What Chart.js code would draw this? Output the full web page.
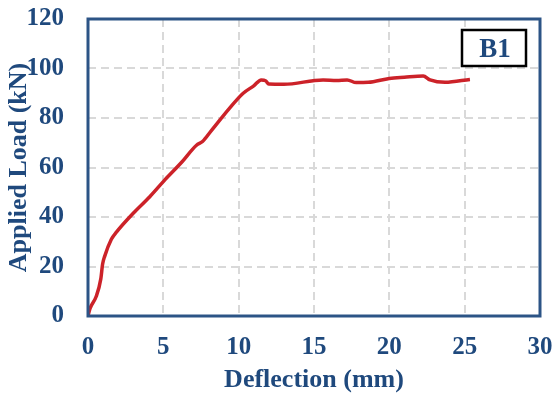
<!DOCTYPE html>
<html>
<head>
<meta charset="utf-8">
<script src="https://cdn.jsdelivr.net/npm/chart.js@4"></script>
<style>
  html, body { margin: 0; padding: 0; background: #fff; }
  #wrap { width: 555px; height: 396px; }
</style>
</head>
<body>
<div id="wrap"><canvas id="myChart" width="555" height="396"></canvas></div>
<script>
const deflection = [0, 0.13, 0.55, 0.85, 0.97, 1.1, 1.55, 1.9, 3.0, 4.1, 5.1, 6.2, 7.2, 7.6, 8.2, 9.4, 10.3, 11.0, 11.5, 11.8, 12.0, 13.0, 15.6, 16.5, 17.2, 17.8, 18.6, 20.0, 21.0, 22.25, 22.7, 23.7, 25.35];
const load = [0, 3, 8, 15, 21, 24, 31, 34, 41.5, 48.2, 55, 62, 69, 70.5, 75, 84, 90, 93, 95.4, 95, 93.7, 93.6, 95.4, 95.2, 95.4, 94.3, 94.4, 96, 96.5, 97, 95.4, 94.4, 95.6];
const xTicks = [0, 5, 10, 15, 20, 25, 30];
const yTicks = [0, 20, 40, 60, 80, 100, 120];
const specimen = 'B1';

const blue = '#1F497D';
const axisBlue = '#2C5486';
const fontFamily = '"Liberation Serif", "Times New Roman", serif';

// frame round the plot area and the label box
const framePlugin = {
  id: 'frame',
  afterDraw(chart) {
    const c = chart.ctx;
    const a = chart.chartArea;
    c.save();
    c.strokeStyle = axisBlue;
    c.lineWidth = 3;
    c.strokeRect(a.left, a.top, a.right - a.left, a.bottom - a.top);
    // label box
    c.strokeStyle = '#000';
    c.lineWidth = 2.5;
    c.fillStyle = '#fff';
    c.fillRect(462, 30, 64, 36);
    c.strokeRect(462, 30, 64, 36);
    c.fillStyle = blue;
    c.font = 'bold 27px ' + fontFamily;
    c.textAlign = 'center';
    c.textBaseline = 'middle';
    c.fillText(specimen, 495, 50);
    c.restore();
  }
};

const ctx = document.getElementById('myChart').getContext('2d');

new Chart(ctx, {
  type: 'scatter',
  data: {
    datasets: [{
      data: deflection.map((d, i) => ({ x: d, y: load[i] })),
      showLine: true,
      borderColor: '#CC2229',
      borderWidth: 3.5,
      pointRadius: 0,
      tension: 0.3,
      cubicInterpolationMode: 'monotone'
    }]
  },
  options: {
    responsive: false,
    animation: false,
    layout: { padding: { top: 19, right: 15, left: 0, bottom: 0 } },
    plugins: {
      legend: { display: false },
      tooltip: { enabled: false }
    },
    scales: {
      x: {
        type: 'linear',
        min: 0,
        max: 30,
        afterBuildTicks: (s) => { s.ticks = xTicks.map(v => ({ value: v })); },
        afterFit: (s) => { s.height = 80; s.paddingLeft = 0; s.paddingRight = 0; },
        border: { display: false, dash: [8, 5] },
        grid: {
          color: '#D9D9D9',
          lineWidth: 2,
          drawTicks: false
        },
        ticks: {
          color: blue,
          padding: 17,
          maxRotation: 0,
          font: { family: fontFamily, size: 25, weight: 'bold' }
        },
        title: {
          display: true,
          text: 'Deflection (mm)',
          color: blue,
          padding: { top: 0, bottom: 0 },
          font: { family: fontFamily, size: 26, weight: 'bold' }
        }
      },
      y: {
        min: 0,
        max: 120,
        afterBuildTicks: (s) => { s.ticks = yTicks.map(v => ({ value: v })); },
        afterFit: (s) => { s.width = 88; s.paddingTop = 0; s.paddingBottom = 0; },
        border: { display: false, dash: [8, 5] },
        grid: {
          color: '#D9D9D9',
          lineWidth: 2,
          drawTicks: false
        },
        ticks: {
          color: blue,
          padding: 24,
          font: { family: fontFamily, size: 25, weight: 'bold' }
        },
        title: {
          display: true,
          text: 'Applied Load (kN)',
          color: blue,
          padding: { top: 4, bottom: 0 },
          font: { family: fontFamily, size: 26, weight: 'bold' }
        }
      }
    }
  },
  plugins: [framePlugin]
});
</script>
</body>
</html>
